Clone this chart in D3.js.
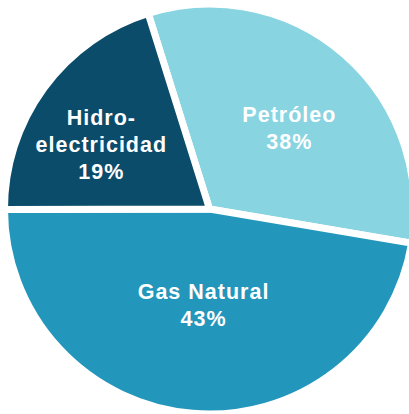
<!DOCTYPE html>
<html>
<head>
<meta charset="utf-8">
<script src="https://cdn.jsdelivr.net/npm/d3@7"></script>
<style>
  body { margin: 0; background: #fff; }
  text { font-family: 'Liberation Sans', Arial, sans-serif; font-weight: bold; }
</style>
</head>
<body>
<div id="chart"></div>
<script>
// slices in drawing order (clockwise, starting at the Petróleo edge)
const categories = ['Petróleo', 'Gas Natural', 'Hidro-electricidad'];
// angular share as drawn in the picture
const shares = [32.5, 47.3, 20.2];
// percentages printed on the slices
const percentLabels = ['38%', '43%', '19%'];
const labelLines = [['Petróleo'], ['Gas Natural'], ['Hidro-', 'electricidad']];
const colors = ['#88d4e1', '#2396bb', '#0b4c6b'];

const width = 409;
const height = 414;
const cx = 209.5;
const cy = 209;
const radius = 205;
const lineH = 27;

// small nudges from the centroid so the text sits where it does in the picture
const labelNudge = [[12.5, -4], [2.5, -6], [-25.5, -4]];

const svg = d3
  .select('#chart')
  .append('svg')
  .attr('width', width)
  .attr('height', height);

const g = svg.append('g').attr('transform', `translate(${cx},${cy})`);

const start = (-17.4 * Math.PI) / 180;
const pie = d3
  .pie()
  .sort(null)
  .value((d) => d)
  .startAngle(start)
  .endAngle(start + 2 * Math.PI);

const arc = d3.arc().innerRadius(0).outerRadius(radius);

const arcs = pie(shares);

g.selectAll('path')
  .data(arcs)
  .enter()
  .append('path')
  .attr('d', arc)
  .attr('fill', (d, i) => colors[i])
  .attr('stroke', '#fff')
  .attr('stroke-width', 7)
  .attr('stroke-linejoin', 'miter');

const labels = g
  .selectAll('.label')
  .data(arcs)
  .enter()
  .append('g')
  .attr('class', 'label')
  .attr('transform', (d, i) => {
    const [x, y] = arc.centroid(d);
    return `translate(${x + labelNudge[i][0]},${y + labelNudge[i][1]})`;
  });

labels.each(function (d, i) {
  const lines = labelLines[i].concat([percentLabels[i]]);
  const n = lines.length;
  d3.select(this)
    .selectAll('text')
    .data(lines)
    .enter()
    .append('text')
    .attr('x', 0)
    .attr('y', (t, j) => (j - (n - 1) / 2) * lineH + 7.5)
    .attr('text-anchor', 'middle')
    .attr('fill', '#fff')
    .attr('font-size', 21.5)
    .attr('letter-spacing', 1)
    .text((t) => t);
});
</script>
</body>
</html>
